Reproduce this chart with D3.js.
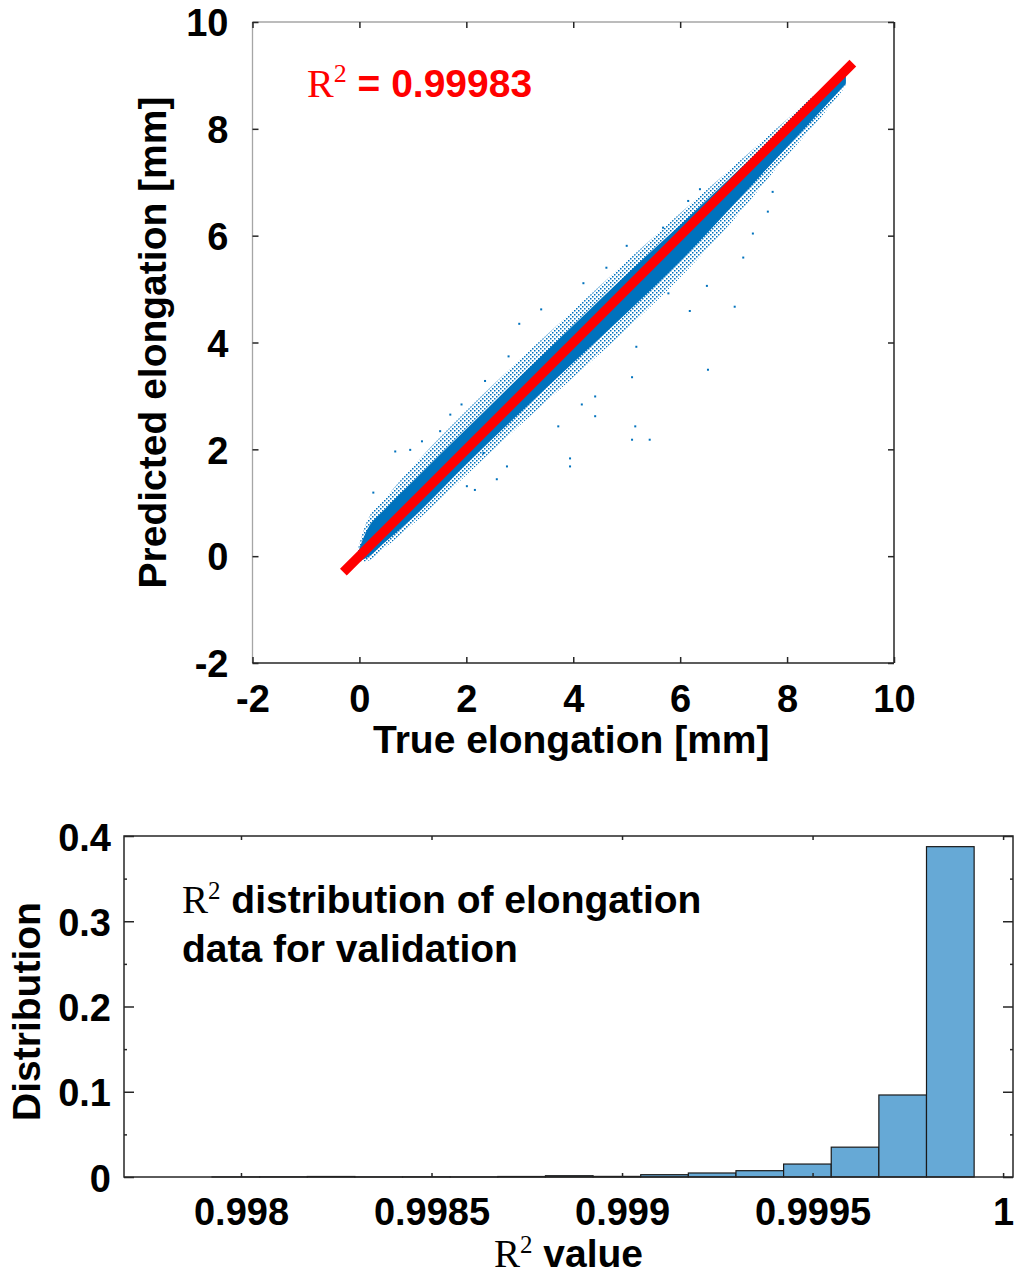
<!DOCTYPE html>
<html>
<head>
<meta charset="utf-8">
<script src="https://cdn.jsdelivr.net/npm/d3@7"></script>
<style>
  body { margin: 0; background: #fff; }
  svg { display: block; }
  text { font-family: "Liberation Sans", Arial, sans-serif; font-weight: bold; }
</style>
</head>
<body>
<svg width="1014" height="1274"></svg>
<script>
// ---- top plot: true vs predicted elongation ----
const scatterTicks = [-2, 0, 2, 4, 6, 8, 10];

// envelope of the point cloud (true x -> predicted y)
const cloudX   = [-0.05, 0.1, 0.5, 1, 2, 3, 4, 5, 6, 7, 8, 8.6, 9.1];
const coreLo   = [-0.1, -0.05, 0.28, 0.72, 1.72, 2.68, 3.62, 4.55, 5.52, 6.58, 7.66, 8.3, 8.85];
const coreHi   = [0.0, 0.4, 0.9, 1.4, 2.38, 3.36, 4.32, 5.28, 6.2, 7.14, 8.08, 8.64, 9.0];
const fringeLo = [-0.1, -0.1, 0.18, 0.6, 1.52, 2.45, 3.35, 4.25, 5.22, 6.3, 7.5, 8.18, 8.8];
const fringeHi = [0.05, 0.55, 1.1, 1.68, 2.72, 3.68, 4.6, 5.52, 6.42, 7.3, 8.18, 8.7, 9.0];

// stray points away from the cloud
const strayX = [0.26, 0.67, 0.95, 1.17, 1.51, 1.70, 1.91, 2.01, 2.16, 2.32, 2.57, 2.76, 2.35, 2.79, 2.99, 3.40,
  3.72, 3.94, 4.16, 4.41, 4.41, 5.10, 5.16, 5.18, 5.43, 4.19, 4.62, 5.00, 5.68, 5.78, 6.15, 6.18, 6.37, 6.50,
  6.52, 7.02, 7.18, 7.36, 7.64, 7.73, 5.10, 3.94];
const strayY = [1.19, 1.96, 1.99, 2.15, 2.34, 2.65, 2.84, 1.31, 1.24, 1.93, 1.44, 1.68, 3.28, 3.74, 4.35, 4.62,
  2.43, 1.83, 2.84, 2.62, 2.99, 3.35, 2.43, 3.92, 2.18, 5.11, 5.40, 5.81, 6.15, 4.92, 6.65, 4.59, 6.87, 5.06,
  3.49, 4.67, 5.59, 6.04, 6.45, 6.82, 2.18, 1.68];

const fitLine = [-0.3, 9.23];

// ---- bottom plot: R^2 histogram ----
const binEdges = [0.997924, 0.998049, 0.998174, 0.998299, 0.998424, 0.998549, 0.998674, 0.998799, 0.998924,
  0.999049, 0.999174, 0.999299, 0.999424, 0.999549, 0.999674, 0.999799, 0.999924];
const binValues = [0.0001, 0.0002, 0.0006, 0.0001, 0.0002, 0.0001, 0.0006, 0.0015,
  0.0007, 0.0027, 0.0047, 0.0074, 0.0152, 0.035, 0.0962, 0.3875];
const histXTicks = [0.998, 0.9985, 0.999, 0.9995, 1];
const histXLabels = ["0.998", "0.9985", "0.999", "0.9995", "1"];
const histYTicks = [0, 0.1, 0.2, 0.3, 0.4];
const histYLabels = ["0", "0.1", "0.2", "0.3", "0.4"];
const histYMinor = [0.05, 0.15, 0.25, 0.35];

const blue = "#0072BD";
const fs = 38;   // tick labels
const fl = 39;   // axis titles / notes
const svg = d3.select("svg");

// 上图 scales
const x = d3.scaleLinear().domain([-2, 10]).range([252.5, 894]);
const y = d3.scaleLinear().domain([-2, 10]).range([663, 22]);

const defs = svg.append("defs");
const pat = defs.append("pattern")
  .attr("id", "speckle")
  .attr("patternUnits", "userSpaceOnUse")
  .attr("width", 4).attr("height", 4);
pat.append("rect").attr("x", 0).attr("y", 0).attr("width", 1.5).attr("height", 1.5).attr("fill", blue);
pat.append("rect").attr("x", 2).attr("y", 2).attr("width", 1.5).attr("height", 1.5).attr("fill", blue);

const gTop = svg.append("g");

const cloud = cloudX.map((d, i) => ({ x: d, lo: coreLo[i], hi: coreHi[i], flo: fringeLo[i], fhi: fringeHi[i] }));

gTop.append("path")
  .datum(cloud)
  .attr("fill", "url(#speckle)")
  .attr("d", d3.area().curve(d3.curveMonotoneX).x(d => x(d.x)).y0(d => y(d.flo)).y1(d => y(d.fhi)));

gTop.append("path")
  .datum(cloud)
  .attr("fill", blue)
  .attr("d", d3.area().curve(d3.curveMonotoneX).x(d => x(d.x)).y0(d => y(d.lo)).y1(d => y(d.hi)));

gTop.selectAll(".stray")
  .data(strayX.map((d, i) => [d, strayY[i]]))
  .join("rect")
  .attr("class", "stray")
  .attr("x", d => x(d[0]) - 1)
  .attr("y", d => y(d[1]) - 1)
  .attr("width", 2).attr("height", 2)
  .attr("fill", blue);

gTop.append("line")
  .attr("x1", x(fitLine[0])).attr("y1", y(fitLine[0]))
  .attr("x2", x(fitLine[1])).attr("y2", y(fitLine[1]))
  .attr("stroke", "#ff0000")
  .attr("stroke-width", 9.5);

// box
gTop.append("line").attr("x1", x(-2)).attr("x2", x(10)).attr("y1", y(10)).attr("y2", y(10)).attr("stroke", "#a6a6a6").attr("stroke-width", 1.3);
gTop.append("line").attr("x1", x(-2)).attr("x2", x(-2)).attr("y1", y(10)).attr("y2", y(-2)).attr("stroke", "#a6a6a6").attr("stroke-width", 1.3);
gTop.append("line").attr("x1", x(-2)).attr("x2", x(10)).attr("y1", y(-2)).attr("y2", y(-2)).attr("stroke", "#262626").attr("stroke-width", 1.5);
gTop.append("line").attr("x1", x(10)).attr("x2", x(10)).attr("y1", y(10)).attr("y2", y(-2)).attr("stroke", "#262626").attr("stroke-width", 1.5);

function styleAxis(g) {
  g.select(".domain").remove();
  g.selectAll(".tick line").attr("stroke", "#262626").attr("stroke-width", 1.5);
  g.selectAll("text").attr("fill", "#000").style("font-size", fs + "px").style("font-family", "Liberation Sans, Arial, sans-serif").style("font-weight", "bold");
}

const tx = gTop.append("g")
  .attr("transform", `translate(0,${y(-2)})`)
  .call(d3.axisBottom(x).tickValues(scatterTicks).tickSize(-6).tickFormat(d => String(d)))
  .call(styleAxis);
tx.selectAll("text").attr("y", 49).attr("dy", null);

gTop.append("g")
  .attr("transform", `translate(0,${y(10)})`)
  .call(d3.axisTop(x).tickValues(scatterTicks).tickSize(-6).tickFormat(""))
  .call(styleAxis);

const ty = gTop.append("g")
  .attr("transform", `translate(${x(-2)},0)`)
  .call(d3.axisLeft(y).tickValues(scatterTicks).tickSize(-6).tickFormat(d => String(d)))
  .call(styleAxis);
ty.selectAll("text").attr("x", -24).attr("dy", "0.36em");

gTop.append("g")
  .attr("transform", `translate(${x(10)},0)`)
  .call(d3.axisRight(y).tickValues(scatterTicks).tickSize(-6).tickFormat(""))
  .call(styleAxis);

gTop.append("text")
  .attr("x", (x(-2) + x(10)) / 2 - 2)
  .attr("y", 753)
  .attr("text-anchor", "middle")
  .style("font-size", fl + "px")
  .text("True elongation [mm]");

gTop.append("text")
  .attr("transform", `translate(166,${(y(-2) + y(10)) / 2}) rotate(-90)`)
  .attr("text-anchor", "middle")
  .style("font-size", fl + "px")
  .text("Predicted elongation [mm]");

const r2 = gTop.append("text")
  .attr("x", 307)
  .attr("y", 97)
  .attr("fill", "#ff0000")
  .style("font-size", "39px");
r2.append("tspan").style("font-family", "Liberation Serif, Times New Roman, serif").style("font-weight", "normal")
  .style("font-size", "40px").text("R");
r2.append("tspan").style("font-family", "Liberation Serif, Times New Roman, serif").style("font-weight", "normal")
  .style("font-size", "26px").attr("dy", -15).text("2");
r2.append("tspan").attr("dy", 15).text(" = 0.99983");

// 下图 histogram
const hx = d3.scaleLinear().domain([0.997693, 1.000026]).range([124, 1013]);
const hy = d3.scaleLinear().domain([0, 0.4]).range([1177, 836]);

const gBot = svg.append("g");

gBot.selectAll(".bar")
  .data(binValues)
  .join("rect")
  .attr("class", "bar")
  .attr("x", (d, i) => hx(binEdges[i]))
  .attr("width", (d, i) => hx(binEdges[i + 1]) - hx(binEdges[i]))
  .attr("y", d => hy(d))
  .attr("height", d => hy(0) - hy(d))
  .attr("fill", "#66a9d6")
  .attr("stroke", "#1a1a1a")
  .attr("stroke-width", 1.2);

gBot.append("rect")
  .attr("x", hx.range()[0]).attr("y", hy(0.4))
  .attr("width", hx.range()[1] - hx.range()[0])
  .attr("height", hy(0) - hy(0.4))
  .attr("fill", "none")
  .attr("stroke", "#262626")
  .attr("stroke-width", 1.5);

const hxAxis = gBot.append("g")
  .attr("transform", `translate(0,${hy(0)})`)
  .call(d3.axisBottom(hx).tickValues(histXTicks).tickSize(-4).tickFormat((d, i) => histXLabels[i]))
  .call(styleAxis);
hxAxis.selectAll("text").attr("y", 48).attr("dy", null);

gBot.append("g")
  .attr("transform", `translate(0,${hy(0.4)})`)
  .call(d3.axisTop(hx).tickValues(histXTicks).tickSize(-4).tickFormat(""))
  .call(styleAxis);

const hyAxis = gBot.append("g")
  .attr("transform", `translate(${hx.range()[0]},0)`)
  .call(d3.axisLeft(hy).tickValues(histYTicks).tickSize(-10).tickFormat((d, i) => histYLabels[i]))
  .call(styleAxis);
hyAxis.selectAll("text").attr("x", -13).attr("dy", "0.37em");

gBot.append("g")
  .attr("transform", `translate(${hx.range()[0]},0)`)
  .call(d3.axisLeft(hy).tickValues(histYMinor).tickSize(-3).tickFormat(""))
  .call(styleAxis);

gBot.append("g")
  .attr("transform", `translate(${hx.range()[1]},0)`)
  .call(d3.axisRight(hy).tickValues(histYTicks).tickSize(-10).tickFormat(""))
  .call(styleAxis);

gBot.append("g")
  .attr("transform", `translate(${hx.range()[1]},0)`)
  .call(d3.axisRight(hy).tickValues(histYMinor).tickSize(-3).tickFormat(""))
  .call(styleAxis);

const xl = gBot.append("text")
  .attr("x", (hx.range()[0] + hx.range()[1]) / 2)
  .attr("y", 1267)
  .attr("text-anchor", "middle")
  .style("font-size", fl + "px");
xl.append("tspan").style("font-family", "Liberation Serif, Times New Roman, serif").style("font-weight", "normal").text("R");
xl.append("tspan").style("font-family", "Liberation Serif, Times New Roman, serif").style("font-weight", "normal")
  .style("font-size", "25px").attr("dy", -14).text("2");
xl.append("tspan").attr("dy", 14).text(" value");

gBot.append("text")
  .attr("transform", `translate(40,${(hy(0) + hy(0.4)) / 2 + 5}) rotate(-90)`)
  .attr("text-anchor", "middle")
  .style("font-size", fl + "px")
  .text("Distribution");

const note1 = gBot.append("text")
  .attr("x", 182)
  .attr("y", 913)
  .style("font-size", "39px");
note1.append("tspan").style("font-family", "Liberation Serif, Times New Roman, serif").style("font-weight", "normal").text("R");
note1.append("tspan").style("font-family", "Liberation Serif, Times New Roman, serif").style("font-weight", "normal")
  .style("font-size", "25px").attr("dy", -14).text("2");
note1.append("tspan").attr("dy", 14).text(" distribution of elongation");

gBot.append("text")
  .attr("x", 182)
  .attr("y", 962)
  .style("font-size", "39px")
  .text("data for validation");
</script>
</body>
</html>
